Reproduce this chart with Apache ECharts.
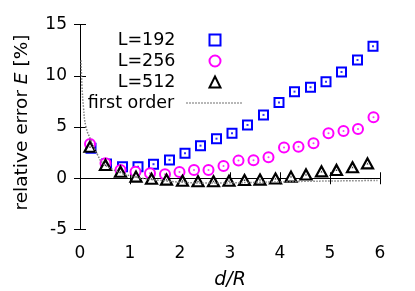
<!DOCTYPE html>
<html>
<head>
<meta charset="utf-8">
<script src="https://cdn.jsdelivr.net/npm/echarts@6/dist/echarts.min.js"></script>
<style>html,body{margin:0;padding:0;background:#fff;}#c{width:415px;height:291px;}</style>
</head>
<body>
<div id="c"></div>
<script>
// L=192 (blue squares)
const x192 = [0.22,0.53,0.85,1.16,1.47,1.79,2.10,2.41,2.73,3.04,3.35,3.67,3.98,4.29,4.61,4.92,5.23,5.55,5.86];
const y192 = [2.93,1.40,1.13,1.13,1.37,1.79,2.44,3.18,3.86,4.39,5.20,6.18,7.38,8.45,8.88,9.42,10.37,11.54,12.88];
// L=256 (magenta circles)
const x256 = [0.20,0.51,0.81,1.11,1.40,1.70,1.99,2.28,2.57,2.87,3.17,3.47,3.77,4.08,4.37,4.67,4.97,5.27,5.56,5.87];
const y256 = [3.35,1.46,0.81,0.64,0.49,0.39,0.61,0.81,0.81,1.20,1.72,1.76,2.05,2.99,3.08,3.41,4.39,4.61,4.81,5.95];
// L=512 (black triangles)
const x512 = [0.20,0.51,0.81,1.12,1.43,1.73,2.05,2.36,2.67,2.98,3.29,3.60,3.91,4.22,4.52,4.83,5.13,5.45,5.75];
const y512 = [3.08,1.30,0.64,0.16,-0.05,-0.13,-0.25,-0.30,-0.30,-0.25,-0.17,-0.13,-0.03,0.16,0.37,0.67,0.81,1.07,1.45];
// first order (grey dotted)
const xFirst = [0.02,0.04,0.07,0.12,0.22,0.35,0.45,0.60,0.80,1.00,1.30,1.60,2.00,2.50,3.00,3.50,4.00,4.50,5.00,5.50,5.95];
const yFirst = [11.5,9.0,6.9,5.0,3.7,2.3,1.5,1.0,0.55,0.25,-0.05,-0.20,-0.38,-0.46,-0.45,-0.40,-0.35,-0.30,-0.27,-0.24,-0.22];
const xTicks = [0,1,2,3,4,5,6];
const yTicks = [-5,0,5,10,15];
const seriesNames = ['L=192','L=256','L=512','first order'];

const pair = (xs, ys) => xs.map((v, i) => [v, ys[i]]);
const FONT = 'DejaVu Sans';
const axisCommon = {
  type: 'value',
  axisLine: { show: true, lineStyle: { color: '#000', width: 1 } },
  axisTick: { show: true, inside: true, length: 6, lineStyle: { color: '#000', width: 1 } },
  splitLine: { show: false }
};
const chart = echarts.init(document.getElementById('c'), null, { renderer: 'canvas' });
const markerLegend = (name, top) => ({
  data: [name], orient: 'vertical', right: 193.5, top: top, padding: 0,
  align: 'right', itemWidth: 11, itemHeight: 11, selectedMode: false,
  textStyle: { fontFamily: FONT, fontSize: 17.5, color: '#000', padding: [0, 29, 0, 0] }
});
chart.setOption({
  animation: false,
  backgroundColor: '#fff',
  grid: { left: 80, right: 35, top: 24.5, bottom: 61.5, containLabel: false, outerBoundsMode: 'none' },
  legend: [
    markerLegend(seriesNames[0], 31),
    markerLegend(seriesNames[1], 52),
    markerLegend(seriesNames[2], 73),
    {
      data: [seriesNames[3]], orient: 'vertical', right: 172, top: 94, padding: 0,
      align: 'right', itemWidth: 56, itemHeight: 11, selectedMode: false,
      itemStyle: { opacity: 0 },
      lineStyle: { color: '#808080', width: 1.5, type: [1.5, 1.5] },
      textStyle: { fontFamily: FONT, fontSize: 17.5, color: '#000', padding: [0, 7, 0, 0] }
    }
  ],
  xAxis: [
    Object.assign({}, axisCommon, {
      min: xTicks[0], max: xTicks[xTicks.length - 1], interval: 1, position: 'bottom',
      axisLabel: { fontFamily: FONT, fontSize: 17, color: '#000', margin: 16 },
      name: 'd/R', nameLocation: 'middle', nameGap: 41,
      nameTextStyle: { fontFamily: FONT, fontSize: 19, fontStyle: 'italic', color: '#000' }
    }),
    Object.assign({}, axisCommon, {
      min: xTicks[0], max: xTicks[xTicks.length - 1], interval: 1, position: 'top',
      axisLabel: { show: false }
    })
  ],
  yAxis: [
    Object.assign({}, axisCommon, {
      min: yTicks[0], max: yTicks[yTicks.length - 1], interval: 5, position: 'left',
      axisLabel: { fontFamily: FONT, fontSize: 17, color: '#000', margin: 13 },
      name: '{n|relative error }{i|E}{n| [%]}', nameLocation: 'middle', nameGap: 48,
      nameTextStyle: {
        fontFamily: FONT, fontSize: 18.5, color: '#000', padding: [0, 0, 0, 9],
        rich: {
          n: { fontFamily: FONT, fontSize: 18.5, color: '#000' },
          i: { fontFamily: FONT, fontSize: 18.5, color: '#000', fontStyle: 'italic' }
        }
      }
    }),
    Object.assign({}, axisCommon, {
      min: yTicks[0], max: yTicks[yTicks.length - 1], interval: 5, position: 'right',
      axisLabel: { show: false }
    })
  ],
  series: [
    { name: seriesNames[0], type: 'scatter', data: pair(x192, y192), symbol: 'rect', symbolSize: 9,
      itemStyle: { color: '#fff', borderColor: '#0000ff', borderWidth: 2, opacity: 1 }, z: 2 },
    { name: 'd192', type: 'scatter', data: pair(x192, y192), symbol: 'rect', symbolSize: 2,
      itemStyle: { color: '#0000ff' }, z: 2, silent: true },
    { name: seriesNames[1], type: 'scatter', data: pair(x256, y256), symbol: 'circle', symbolSize: 10,
      itemStyle: { color: '#fff', borderColor: '#ff00ff', borderWidth: 2, opacity: 1 }, z: 3 },
    { name: 'd256', type: 'scatter', data: pair(x256, y256), symbol: 'circle', symbolSize: 2,
      itemStyle: { color: '#ff00ff' }, z: 3, silent: true },
    { name: seriesNames[2], type: 'scatter', data: pair(x512, y512), symbol: 'triangle', symbolSize: [11, 10],
      itemStyle: { color: '#fff', borderColor: '#000', borderWidth: 2.2, opacity: 1 }, z: 4 },
    { name: 'd512', type: 'scatter', data: pair(x512, y512), symbol: 'triangle', symbolSize: 2,
      itemStyle: { color: '#000' }, z: 4, silent: true },
    { name: seriesNames[3], type: 'line', data: pair(xFirst, yFirst), smooth: true, symbol: 'none',
      showSymbol: false, itemStyle: { color: '#808080' },
      lineStyle: { color: '#808080', width: 1.5, type: [1.5, 1.5] }, z: 5 }
  ]
});
</script>
</body>
</html>
